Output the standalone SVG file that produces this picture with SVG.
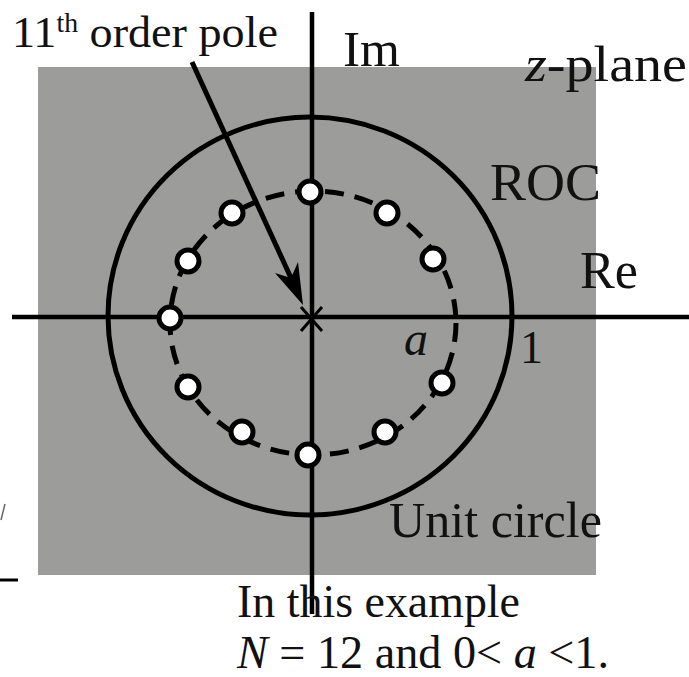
<svg xmlns="http://www.w3.org/2000/svg" width="689" height="677" viewBox="0 0 689 677">
<style>
.t{font-family:"Liberation Serif","Times New Roman",serif;fill:#111}
.i{font-style:italic}
.ax{stroke:#000;stroke-width:4.5;fill:none}
.pole{fill:#fff;stroke:#000;stroke-width:5}
</style>
<rect width="689" height="677" fill="#fff"/>
<rect x="38" y="67" width="558" height="508" fill="#9c9d9a"/>
<g id="unit-circle"><ellipse cx="310" cy="316" rx="202" ry="199" fill="none" stroke="#000" stroke-width="5"/></g>
<g id="dashed-circle"><ellipse cx="313" cy="323" rx="143" ry="132" fill="none" stroke="#000" stroke-width="5" stroke-dasharray="19 11"/></g>
<g id="connectors">
<line x1="12" y1="317" x2="689" y2="317" class="ax"/>
<line x1="312" y1="12" x2="312" y2="614" class="ax"/>
<line x1="192" y1="62" x2="291" y2="278" stroke="#000" stroke-width="5"/>
<polygon points="303,305 275,273 291,278 298,262" fill="#000"/>
</g>
<g id="origin-pole"><path d="M301,307 L322,331 M322,307 L301,331" stroke="#000" stroke-width="3"/></g>
<g id="zeros">
<circle class="pole" cx="310" cy="192" r="11"/>
<circle class="pole" cx="387" cy="213" r="11"/>
<circle class="pole" cx="433" cy="259" r="11"/>
<circle class="pole" cx="442" cy="383" r="11"/>
<circle class="pole" cx="385" cy="432" r="11"/>
<circle class="pole" cx="308" cy="455" r="11"/>
<circle class="pole" cx="242" cy="432" r="11"/>
<circle class="pole" cx="188" cy="387" r="11"/>
<circle class="pole" cx="170" cy="318" r="11"/>
<circle class="pole" cx="188" cy="261" r="11"/>
<circle class="pole" cx="232" cy="213" r="11"/>
</g>
<g id="labels">
<text class="t" x="12" y="47" font-size="45" textLength="266" lengthAdjust="spacingAndGlyphs">11<tspan font-size="27" dy="-15">th</tspan><tspan dy="15"> order pole</tspan></text>
<text class="t" x="343" y="66" font-size="50" textLength="57" lengthAdjust="spacingAndGlyphs">Im</text>
<text class="t" x="525" y="81" font-size="50" textLength="162" lengthAdjust="spacingAndGlyphs"><tspan class="i">z</tspan>-plane</text>
<text class="t" x="490" y="200" font-size="52" textLength="111" lengthAdjust="spacingAndGlyphs">ROC</text>
<text class="t" x="580" y="288" font-size="52" textLength="58" lengthAdjust="spacingAndGlyphs">Re</text>
<text class="t i" x="404" y="355" font-size="48">a</text>
<text class="t" x="520" y="363" font-size="46">1</text>
<text class="t" x="389" y="537" font-size="50" textLength="213" lengthAdjust="spacingAndGlyphs">Unit circle</text>
<text class="t" x="237" y="617" font-size="46" textLength="283" lengthAdjust="spacingAndGlyphs">In this example</text>
<text class="t" x="237" y="668" font-size="46" textLength="372" lengthAdjust="spacingAndGlyphs"><tspan class="i">N</tspan> = 12 and 0&lt; <tspan class="i">a</tspan> &lt;1.</text>
</g>
<g id="edge-fragments">
<line x1="0" y1="580" x2="18" y2="580" stroke="#000" stroke-width="3"/>
<line x1="5" y1="504" x2="1" y2="520" stroke="#666" stroke-width="1.5"/>
</g>
</svg>
